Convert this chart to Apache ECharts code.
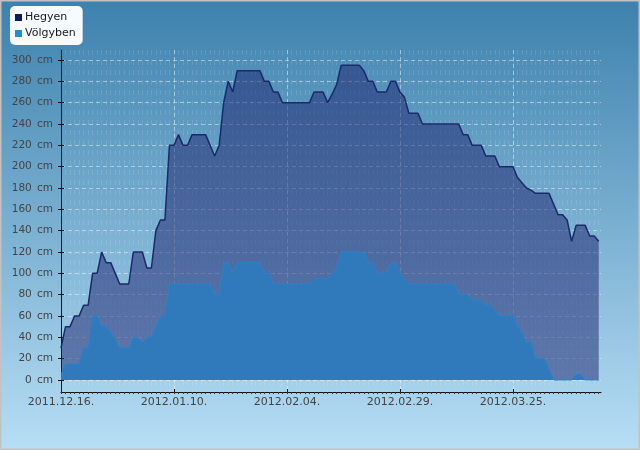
<!DOCTYPE html>
<html>
<head>
<meta charset="utf-8">
<script src="https://cdn.jsdelivr.net/npm/echarts@6/dist/echarts.min.js"></script>
<style>
  html, body { margin: 0; padding: 0; }
  #main { width: 640px; height: 450px; }
</style>
</head>
<body>
<div id="main"></div>
<script>
// napi hóvastagság, 2011.12.16-tól (0. nap) naponta
var startDate = [2011, 11, 16];
var hegyen = [
  30, 50, 50, 60, 60, 70, 70, 100, 100, 120,
  110, 110, 100, 90, 90, 90, 120, 120, 120, 105,
  105, 140, 150, 150, 220, 220, 230, 220, 220, 230,
  230, 230, 230, 220, 210, 220, 260, 280, 270, 290,
  290, 290, 290, 290, 290, 280, 280, 270, 270, 260,
  260, 260, 260, 260, 260, 260, 270, 270, 270, 260,
  268, 277, 295, 295, 295, 295, 295, 290, 280, 280,
  270, 270, 270, 280, 280, 270, 265, 250, 250, 250,
  240, 240, 240, 240, 240, 240, 240, 240, 240, 230,
  230, 220, 220, 220, 210, 210, 210, 200, 200, 200,
  200, 190, 185, 180, 178, 175, 175, 175, 175, 165,
  155, 155, 150, 130, 145, 145, 145, 135, 135, 130
];
var volgyben = [
  5, 15, 15, 15, 15, 30, 30, 60, 60, 50,
  50, 45, 38, 30, 30, 30, 40, 40, 35, 40,
  40, 50, 60, 60, 90, 90, 90, 90, 90, 90,
  90, 90, 90, 90, 80, 80, 110, 110, 100, 110,
  110, 110, 110, 110, 110, 100, 100, 90, 90, 90,
  90, 90, 90, 90, 90, 90, 95, 95, 95, 95,
  100, 105, 120, 120, 120, 120, 120, 120, 110, 110,
  100, 100, 100, 110, 110, 100, 95, 90, 90, 90,
  90, 90, 90, 90, 90, 90, 90, 90, 80, 80,
  80, 75, 75, 75, 70, 70, 65, 60, 60, 60,
  60, 50, 45, 35, 35, 20, 20, 20, 10, 0,
  0, 0, 0, 0, 5, 5, 0, 0, 0, 0
];
var xTicks = [0, 25, 50, 75, 100];
var yTicks = [0, 20, 40, 60, 80, 100, 120, 140, 160, 180, 200, 220, 240, 260, 280, 300];

var days = [];
for (var i = 0; i < hegyen.length; i++) days.push(i);

function dateLabel(v) {
  var d = new Date(startDate[0], startDate[1], startDate[2] + Math.round(v));
  var m = d.getMonth() + 1, dd = d.getDate();
  return d.getFullYear() + '.' + (m < 10 ? '0' + m : m) + '.' + (dd < 10 ? '0' + dd : dd) + '.';
}

var myChart = echarts.init(document.getElementById('main'));
var option = {
  animation: false,
  backgroundColor: {
    type: 'linear', x: 0, y: 0, x2: 0, y2: 1,
    colorStops: [{ offset: 0, color: '#3d81ad' }, { offset: 1, color: '#b7def5' }]
  },
  textStyle: { fontFamily: 'DejaVu Sans' },
  graphic: [{
    type: 'rect', z: 100, silent: true,
    shape: { x: 0.5, y: 0.5, width: 639, height: 449 },
    style: { fill: null, stroke: '#c2c2c2', lineWidth: 2 }
  }],
  legend: {
    orient: 'vertical',
    left: 10, top: 6,
    backgroundColor: '#f6fbff',
    borderRadius: 5,
    padding: [6, 7, 6, 5],
    itemWidth: 7, itemHeight: 7, itemGap: 5,
    icon: 'rect',
    textStyle: { fontSize: 11, color: '#1a1a1a', padding: [0, 0, 0, -2] },
    data: [
      { name: 'Hegyen', itemStyle: { color: '#0e1a66' } },
      { name: 'Völgyben', itemStyle: { color: '#1e90d8' } }
    ]
  },
  grid: { left: 61, top: 50, right: 39, bottom: 58, containLabel: false },
  xAxis: [{
    type: 'value', min: 0, max: 119.5, interval: 25,
    axisLine: { onZero: false, lineStyle: { color: '#111', width: 1 } },
    axisTick: { show: true, inside: true, length: 3, customValues: xTicks, lineStyle: { color: '#111' } },
    axisLabel: { customValues: xTicks, formatter: dateLabel, color: '#444', fontSize: 11, margin: 5 },
    splitLine: { show: true, lineStyle: { color: 'rgba(255,255,255,0.45)', type: [4, 3] } }
  }, {
    type: 'value', min: 0, max: 119.5, position: 'bottom',
    axisLine: { show: false, onZero: false },
    axisTick: { show: true, length: 2, customValues: days, lineStyle: { color: '#333' } },
    axisLabel: { show: false },
    splitLine: { show: true, lineStyle: { color: 'rgba(255,255,255,0.12)', type: [5, 5] } }
  }],
  yAxis: [{
    type: 'value', min: -11.25, max: 309.375,
    axisLine: { show: true, lineStyle: { color: '#111' } },
    axisTick: { show: true, length: 3, customValues: yTicks, lineStyle: { color: '#111' } },
    axisLabel: { customValues: yTicks, formatter: '{value}\u2002cm', color: '#444', fontSize: 10.5, margin: 8 },
    splitLine: { show: true, lineStyle: { color: 'rgba(255,255,255,0.45)', type: [4, 3] } }
  }, {
    type: 'value', min: -11.25, max: 309.375, position: 'left',
    axisLine: { show: false },
    axisTick: { show: true, inside: true, length: 3, customValues: yTicks, lineStyle: { color: '#111' } },
    axisLabel: { show: false },
    splitLine: { show: false }
  }],
  series: [{
    name: 'Hegyen', type: 'line',
    data: days.map(function (d) { return [d, hegyen[d]]; }),
    showSymbol: false,
    itemStyle: { color: '#0e1a66' },
    lineStyle: { color: '#1a2a6a', width: 1.5 },
    areaStyle: { color: 'rgba(28,34,108,0.72)' }
  }, {
    name: 'Völgyben', type: 'line',
    data: days.map(function (d) { return [d, volgyben[d]]; }),
    showSymbol: false,
    itemStyle: { color: '#1e90d8' },
    lineStyle: { color: '#2584cc', width: 1 },
    areaStyle: { color: '#307abb', opacity: 1 }
  }]
};
myChart.setOption(option);
window.addEventListener('resize', function () { myChart.resize(); });
</script>
</body>
</html>
